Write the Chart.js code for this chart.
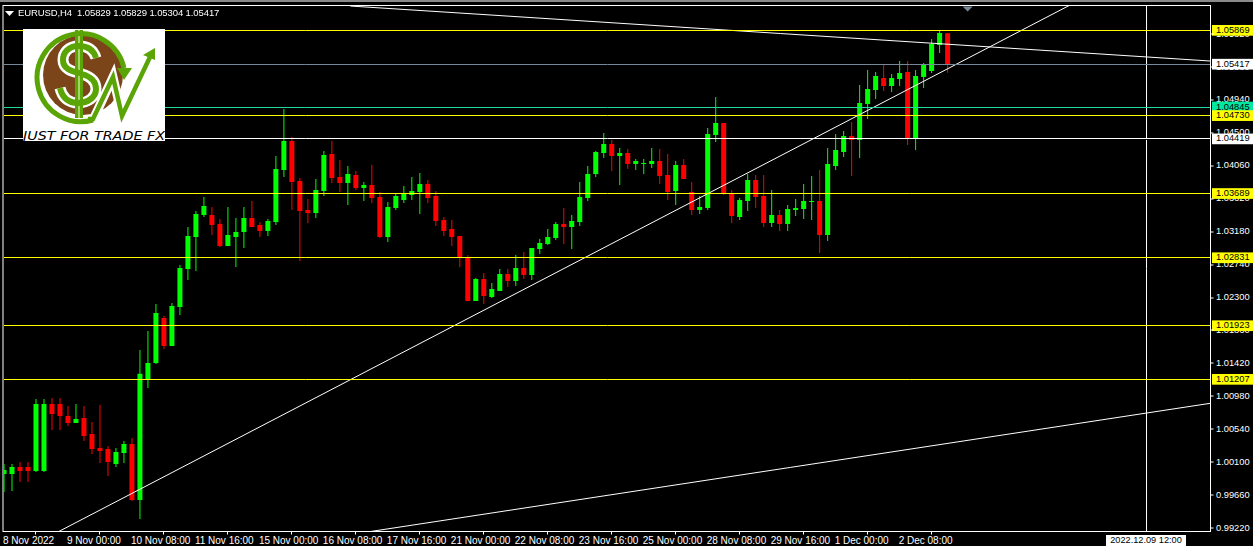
<!DOCTYPE html>
<html><head><meta charset="utf-8">
<script src="https://cdn.jsdelivr.net/npm/chart.js@4/dist/chart.umd.js"></script>
<style>
html,body{margin:0;padding:0;background:#000;width:1253px;height:546px;overflow:hidden}
canvas{position:absolute;left:0;top:0}
#strip{position:absolute;left:0;top:0;width:1253px;height:2px;background:#8a8a8a}
#title{position:absolute;left:18px;top:7px;color:#fff;font:9.5px/12px "Liberation Sans";white-space:pre;letter-spacing:-0.1px}
#logo{position:absolute;left:23px;top:29px}
#tri{position:absolute;left:5px;top:11px}
#date{position:absolute;left:1106px;top:535px;width:80px;height:11px;background:#fff;color:#000;font:9.2px/11px "Liberation Sans";text-align:center}
</style></head><body>
<canvas id="c" width="1253" height="546"></canvas>
<div id="strip"></div>
<svg id="tri" width="9" height="5"><polygon points="0,0 9,0 4.5,5" fill="#fff"/></svg>
<div id="title">EURUSD,H4  1.05829 1.05829 1.05304 1.05417</div>
<svg id="logo" width="142" height="112" viewBox="23 29 142 112">
<rect x="23" y="29" width="142" height="112" fill="#fff"/>
<circle cx="83" cy="75" r="40" fill="#7b4519"/>
<path d="M96,58 C93,48 85,46 79,46 C68,46 63,53 63,60 C63,72 79,72 82,74 C92,77 96,82 96,89 C96,97 88,103 78,103 C68,103 62,97 60,88" fill="none" stroke="#fff" stroke-width="11"/>
<rect x="75" y="30" width="8" height="88" fill="#5aa505"/>
<rect x="78" y="30" width="2" height="88" fill="#a8d468"/>
<path d="M96,58 C93,48 85,46 79,46 C68,46 63,53 63,60 C63,72 79,72 82,74 C92,77 96,82 96,89 C96,97 88,103 78,103 C68,103 62,97 60,88" fill="none" stroke="#5aa505" stroke-width="6"/>
<path d="M93,120 A44,44 0 1 1 124,68" fill="none" stroke="#5aa505" stroke-width="5"/>
<polygon points="117,68 132,68 124,80" fill="#5aa505"/>
<polyline points="93,120 113,77 122,116 147,58" fill="none" stroke="#fff" stroke-width="9"/>
<polyline points="88,119 93,119 113,77 122,116 150,57" fill="none" stroke="#5aa505" stroke-width="4.5"/>
<polygon points="155,48 143,55 155,60" fill="#5aa505"/>
<text x="23" y="140" font-family="DejaVu Sans" font-style="italic" font-size="12" fill="#000" textLength="142" lengthAdjust="spacingAndGlyphs">JUST FOR TRADE FX</text>
</svg>
<div id="date">2022.12.09 12:00</div>
<script>
const tickLabels = ["8 Nov 2022","9 Nov 00:00","10 Nov 08:00","11 Nov 16:00","15 Nov 00:00","16 Nov 08:00","17 Nov 16:00","21 Nov 00:00","22 Nov 08:00","23 Nov 16:00","25 Nov 00:00","28 Nov 08:00","29 Nov 16:00","1 Dec 00:00","2 Dec 08:00"];
const priceTicks = [0.9922,0.9966,1.001,1.0054,1.0098,1.0142,1.0186,1.023,1.0274,1.0318,1.0362,1.0406,1.045,1.0494,1.0538,1.0582];
const levelValues = [1.05869,1.05417,1.04845,1.0473,1.04419,1.03689,1.02831,1.01923,1.01207];
const levelColors = ["#ffff00","#778899","#20d8a0","#ffff00","#ffffff","#ffff00","#ffff00","#ffff00","#ffff00"];
const levelBadges = ["#ffff00","#ffffff","#00e8a0","#ffff00","#ffffff","#ffff00","#ffff00","#ffff00","#ffff00"];
const opens = [0.99942,0.99942,1.00036,1.00036,0.99982,0.99982,1.00877,1.00877,1.00717,1.00624,1.00690,1.00477,1.00290,1.00277,1.00076,1.00223,1.00343,0.99595,1.01211,1.01425,1.02026,1.01652,1.02173,1.02681,1.03108,1.03402,1.03402,1.03282,1.02988,1.03108,1.03175,1.03362,1.03268,1.03188,1.03308,1.04003,1.04391,1.03856,1.03469,1.03429,1.03723,1.04217,1.03910,1.03829,1.03936,1.03763,1.03803,1.03642,1.03108,1.03495,1.03602,1.03669,1.03709,1.03816,1.03656,1.03335,1.03215,1.03122,1.02828,1.02253,1.02547,1.02307,1.02387,1.02614,1.02520,1.02694,1.02601,1.02948,1.03015,1.03095,1.03282,1.03242,1.03308,1.03629,1.03950,1.04230,1.04350,1.04190,1.04230,1.04083,1.04083,1.04083,1.04123,1.03936,1.03723,1.04070,1.03709,1.03469,1.03495,1.04471,1.04631,1.03683,1.03375,1.03589,1.03870,1.03656,1.03295,1.03402,1.03282,1.03469,1.03482,1.03576,1.03589,1.03135,1.04057,1.04244,1.04457,1.04404,1.04885,1.05072,1.05232,1.05125,1.05219,1.05312,1.04431,1.05245,1.05326,1.05673,1.05829];
const highs = [1.00076,1.00076,1.00103,1.00103,1.00944,1.00944,1.00957,1.00957,1.00851,1.00877,1.00851,1.00637,1.00864,1.00316,1.00290,1.00383,1.00423,1.01599,1.01852,1.02213,1.02053,1.02226,1.02734,1.03242,1.03455,1.03642,1.03509,1.03349,1.03509,1.03362,1.03509,1.03589,1.03308,1.03349,1.04190,1.04818,1.04444,1.03896,1.03616,1.03883,1.04257,1.04391,1.04137,1.04057,1.03990,1.03843,1.04070,1.03709,1.03576,1.03683,1.03789,1.03910,1.03963,1.03870,1.03723,1.03375,1.03335,1.03122,1.02868,1.02560,1.02627,1.02494,1.02681,1.02681,1.02868,1.02908,1.02961,1.03081,1.03215,1.03308,1.03495,1.03402,1.03843,1.04057,1.04257,1.04497,1.04404,1.04297,1.04284,1.04150,1.04150,1.04297,1.04284,1.04217,1.04123,1.04150,1.03843,1.03656,1.04564,1.04978,1.04631,1.03736,1.03629,1.03950,1.03936,1.03936,1.03736,1.03469,1.03536,1.03616,1.03816,1.03923,1.04003,1.04297,1.04484,1.04524,1.04644,1.05139,1.05339,1.05312,1.05406,1.05285,1.05459,1.05459,1.05339,1.05432,1.05753,1.05860,1.05829];
const lows = [0.99702,0.99715,0.99836,0.99836,0.99969,0.99969,1.00530,1.00530,1.00583,1.00624,1.00383,1.00210,1.00089,0.99916,1.00036,1.00089,0.99582,0.99341,1.01091,1.01412,1.01612,1.01652,1.02066,1.02534,1.02654,1.03375,1.03135,1.02975,1.02988,1.02707,1.02961,1.03242,1.03108,1.03122,1.03268,1.03910,1.03469,1.02788,1.03295,1.03362,1.03656,1.03829,1.03709,1.03536,1.03736,1.03589,1.03562,1.03095,1.03041,1.03469,1.03562,1.03602,1.03415,1.03562,1.03255,1.03122,1.02988,1.02707,1.02253,1.02253,1.02213,1.02293,1.02387,1.02440,1.02454,1.02547,1.02534,1.02881,1.03001,1.03068,1.03015,1.02948,1.03255,1.03589,1.03910,1.04163,1.03990,1.03803,1.04016,1.04003,1.03950,1.04030,1.03816,1.03602,1.03536,1.03883,1.03402,1.03415,1.03469,1.04377,1.03669,1.03295,1.03335,1.03455,1.03495,1.03242,1.03242,1.03188,1.03188,1.03389,1.03349,1.03335,1.02894,1.03055,1.04003,1.04177,1.03923,1.04163,1.04684,1.04952,1.05058,1.05045,1.05125,1.04337,1.04270,1.05098,1.05299,1.05566,1.05304];
const closes = [0.99996,1.00036,0.99982,0.99982,1.00877,1.00877,1.00744,1.00717,1.00624,1.00677,1.00450,1.00277,1.00250,1.00103,1.00236,1.00343,0.99595,1.01281,1.01425,1.02093,1.01652,1.02186,1.02694,1.03122,1.03415,1.03522,1.03268,1.02988,1.03135,1.03175,1.03362,1.03242,1.03188,1.03322,1.04016,1.04391,1.03843,1.03455,1.03429,1.03736,1.04203,1.03896,1.03829,1.03950,1.03763,1.03803,1.03629,1.03108,1.03509,1.03656,1.03696,1.03723,1.03816,1.03629,1.03322,1.03188,1.03108,1.02828,1.02253,1.02547,1.02320,1.02413,1.02614,1.02520,1.02694,1.02601,1.02961,1.03028,1.03108,1.03282,1.03242,1.03322,1.03642,1.03950,1.04244,1.04350,1.04190,1.04230,1.04083,1.04123,1.04097,1.04123,1.03923,1.03709,1.04070,1.03883,1.03469,1.03509,1.04484,1.04631,1.03683,1.03389,1.03602,1.03870,1.03642,1.03295,1.03402,1.03282,1.03482,1.03495,1.03589,1.03589,1.03135,1.04083,1.04270,1.04457,1.04404,1.04898,1.05085,1.05259,1.05125,1.05232,1.05299,1.04431,1.05259,1.05419,1.05686,1.05833,1.05417];
const barIndex = opens.map((_, i) => i);
const risingTrend = [[6.85,0.99174],[133.2,1.06201]];
const fallingTrend = [[43.3,1.06194],[150.875,1.05459]];
const lowerTrend = [[45.84,0.99174],[150.875,1.00887]];
const crosshairX = 142.875;
const crossLevel = 1.04419;
const xMin = 0, xMax = 150.875, yMin = 0.99174, yMax = 1.06201;

const toPts = a => a.map(p => ({x:p[0], y:p[1]}));
const barColors = barIndex.map(i => closes[i] >= opens[i] ? "#00ff00" : "#ff0000");
const lineDS = (pts, color) => ({type:"line", data:toPts(pts), borderColor:color, borderWidth:1, pointRadius:0, tension:0, order:0, clip:true, fill:false});
const levelAt = v => levelValues.indexOf(v);

const frame = {
  id:"frame",
  afterDraw(ch){
    const a = ch.chartArea, g = ch.ctx;
    g.save();
    g.strokeStyle = "#fff"; g.lineWidth = 1;
    g.strokeRect(a.left-1, a.top, a.width+1, a.height);
    g.fillStyle = "#778899";
    const tx = ch.scales.x.getPixelForValue(120.5);
    g.beginPath(); g.moveTo(tx-5,a.top+1); g.lineTo(tx+5,a.top+1); g.lineTo(tx,a.top+6); g.closePath(); g.fill();
    g.restore();
  }
};

const cv = document.getElementById("c");
cv.getContext("2d",{alpha:false});
new Chart(cv, {
  type:"bar",
  plugins:[frame],
  data:{datasets:[
    lineDS(risingTrend,"#ffffff"),
    lineDS(fallingTrend,"#ffffff"),
    lineDS(lowerTrend,"#ffffff"),
    lineDS([[crosshairX,yMin],[crosshairX,yMax]],"#ffffff"),
    {type:"line", data:[{x:crosshairX,y:crossLevel}], pointRadius:1, pointBackgroundColor:"#000", pointBorderWidth:0, showLine:false, order:-1},
    {label:"body", data:barIndex.map(i=>({x:i,y:[opens[i],closes[i]]})), backgroundColor:barColors, barThickness:5, grouped:false, order:1, borderWidth:0, inflateAmount:0},
    {label:"wick", data:barIndex.map(i=>({x:i,y:[lows[i],highs[i]]})), backgroundColor:barColors, barThickness:1, grouped:false, order:2, borderWidth:0, inflateAmount:0}
  ]},
  options:{
    responsive:false, animation:false, devicePixelRatio:1,
    layout:{padding:{left:3.5,top:5.5,right:0,bottom:0}},
    plugins:{legend:{display:false},tooltip:{enabled:false},title:{display:false}},
    scales:{
      x:{
        type:"linear", min:xMin, max:xMax, offset:false,
        afterBuildTicks(s){ s.ticks = tickLabels.map((_,k)=>({value:k*8})); },
        afterFit(s){ s.height = 14.5; s.paddingLeft = 0; s.paddingRight = 0; },
        border:{display:false},
        grid:{drawOnChartArea:false, drawTicks:true, tickLength:3, tickColor:"#fff", tickWidth:1},
        ticks:{autoSkip:false, maxRotation:0, minRotation:0, align:"start", padding:1, labelOffset:-1, color:"#ffffff", font:{family:"Liberation Sans",size:10},
          callback:v=>tickLabels[Math.round(v/8)]||""}
      },
      y:{
        type:"linear", position:"right", min:yMin, max:yMax,
        afterBuildTicks(s){ s.ticks = priceTicks.concat(levelValues).map(v=>({value:v})); },
        afterFit(s){ s.width = 42.5; s.paddingTop = 0; s.paddingBottom = 0; },
        border:{display:false},
        grid:{z:1, drawTicks:true, tickLength:3,
          lineWidth:c=>levelAt(c.tick.value)>=0?1:0,
          color:c=>{const k=levelAt(c.tick.value);return k>=0?levelColors[k]:"rgba(0,0,0,0)";},
          tickColor:c=>levelAt(c.tick.value)>=0?"rgba(0,0,0,0)":"#fff", tickWidth:1},
        ticks:{autoSkip:false, crossAlign:"near", padding:2.5, font:{family:"Liberation Sans",size:9.3,lineHeight:1.15},
          color:c=>levelAt(c.tick.value)>=0?"#000":"#ffffff",
          showLabelBackdrop:c=>levelAt(c.tick.value)>=0,
          backdropColor:c=>{const k=levelAt(c.tick.value);return k>=0?levelBadges[k]:"rgba(0,0,0,0)";},
          backdropPadding:{left:4,right:4,top:0,bottom:0},
          callback:v=>v.toFixed(5)}
      }
    }
  }
});
</script>
</body></html>
